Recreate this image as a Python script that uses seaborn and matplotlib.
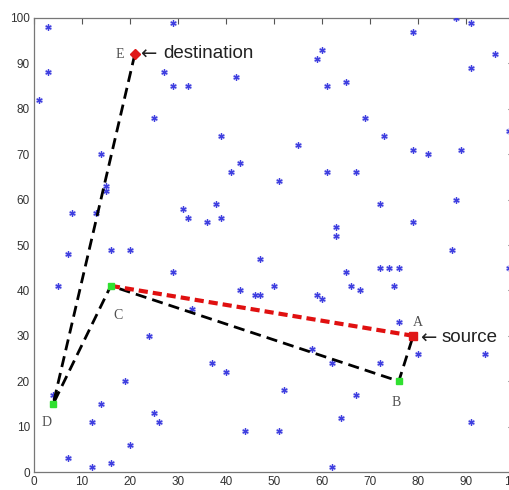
import matplotlib
matplotlib.use("Agg")
import matplotlib.pyplot as plt
import seaborn as sns
import pandas as pd

# scattered sensor nodes (blue asterisks)
node_x = [3, 3, 1, 29, 27, 29, 32, 42, 25, 39, 14, 41, 43, 15, 15, 8, 13, 31, 32, 36,
          38, 39, 16, 20, 88, 91, 79, 60, 59, 61, 65, 96, 91, 69, 73, 55, 79, 82, 89, 99,
          61, 67, 51, 72, 88, 79, 63, 63, 87, 7, 5, 29, 43, 46, 47, 47, 33, 24, 37, 40,
          19, 4, 14, 25, 26, 12, 20, 44, 7, 16, 12, 99, 72, 74, 76, 65, 50, 66, 68, 75,
          59, 60, 76, 79, 80, 94, 58, 62, 72, 52, 67, 64, 51, 91, 62, 16, 4, 21, 76]
node_y = [98, 88, 82, 99, 88, 85, 85, 87, 78, 74, 70, 66, 68, 63, 62, 57, 57, 58, 56, 55,
          59, 56, 49, 49, 100, 99, 97, 93, 91, 85, 86, 92, 89, 78, 74, 72, 71, 70, 71, 75,
          66, 66, 64, 59, 60, 55, 54, 52, 49, 48, 41, 44, 40, 39, 39, 47, 36, 30, 24, 22,
          20, 17, 15, 13, 11, 11, 6, 9, 3, 2, 1, 45, 45, 45, 45, 44, 41, 41, 40, 41,
          39, 38, 33, 30, 26, 26, 27, 24, 24, 18, 17, 12, 9, 11, 1, 41, 15, 92, 20]

# route nodes
path_labels = ["E", "D", "C", "B", "A"]
path_x = [21, 4, 16, 76, 79]
path_y = [92, 15, 41, 20, 30]

# direct link C -> A
direct_x = [16, 79]
direct_y = [41, 30]

ticks = [0, 10, 20, 30, 40, 50, 60, 70, 80, 90, 100]

sns.set_theme(style="white")
plt.rcParams['font.family'] = ['Liberation Sans', 'DejaVu Sans']

fig = plt.figure(figsize=(5.1, 4.9), dpi=100)
ax = fig.add_axes([34 / 510, 18 / 490, 480 / 510, 454 / 490])

nodes = pd.DataFrame({"x": node_x, "y": node_y})
# soft halo + asterisk core
sns.scatterplot(data=nodes, x="x", y="y", ax=ax, marker="o", s=24,
                color="#d0d0f6", linewidth=0, alpha=0.7, zorder=2)
sns.scatterplot(data=nodes, x="x", y="y", ax=ax, marker=(6, 2, 0), s=15,
                color="#4040e0", linewidth=0.9, edgecolor="#4040e0", zorder=3)

path = pd.DataFrame({"x": path_x, "y": path_y, "order": range(len(path_x))})
sns.lineplot(data=path, x="x", y="y", ax=ax, sort=False, estimator=None,
             color="black", linestyle=(0, (4, 2.2)), linewidth=2.0, zorder=4)
ax.plot(direct_x, direct_y, color="#e01010", linestyle=(0, (2.2, 1.2)),
        linewidth=3.0, zorder=4)

# special nodes
marker_style = {
    "E": dict(color="#e01818", marker="D", ms=5),
    "A": dict(color="#e01818", marker="s", ms=5.5),
    "B": dict(color="#30e030", marker="s", ms=5),
    "C": dict(color="#30e030", marker="s", ms=5),
    "D": dict(color="#30e030", marker="s", ms=5),
}
label_offset = {"E": (-3.2, 0.0), "D": (-1.3, -4.0), "C": (1.5, -6.5),
                "B": (-0.5, -4.8), "A": (1.0, 3.0)}
for lab, x, y in zip(path_labels, path_x, path_y):
    st = marker_style[lab]
    ax.plot([x], [y], linestyle="none", marker=st["marker"], ms=st["ms"],
            color=st["color"], markeredgecolor=st["color"], zorder=5)
    dx, dy = label_offset[lab]
    ax.text(x + dx, y + dy, lab, fontsize=10, family=["Liberation Serif", "DejaVu Serif"],
            color="#505050", ha="center", va="center", zorder=6)

# annotations: arrow glyph + word
ax.text(22.0, 92.0, "\u2190", fontsize=14, color="#222222", ha="left", va="center",
        family=["DejaVu Sans"], zorder=6)
ax.text(27.0, 92.2, "destination", fontsize=13.5, color="#222222",
        ha="left", va="center", family=["Liberation Sans", "DejaVu Sans"], zorder=6)
ax.text(80.4, 29.4, "\u2190", fontsize=14, color="#222222", ha="left", va="center",
        family=["DejaVu Sans"], zorder=6)
ax.text(84.8, 29.6, "source", fontsize=13.5, color="#222222",
        ha="left", va="center", family=["Liberation Sans", "DejaVu Sans"], zorder=6)

ax.set_xlim(0, 100)
ax.set_ylim(0, 100)
ax.set_xticks(ticks)
ax.set_yticks(ticks)
ax.set_xticklabels([str(t) for t in ticks])
ax.set_yticklabels([str(t) for t in ticks])
ax.set_xlabel("")
ax.set_ylabel("")
ax.tick_params(direction="in", length=4, width=0.8, colors="#555555",
               labelsize=8.5, labelcolor="#333333", top=True, right=True,
               pad=3)
for sp in ax.spines.values():
    sp.set_color("#777777")
    sp.set_linewidth(0.9)

fig.savefig("out.png", dpi=100)
